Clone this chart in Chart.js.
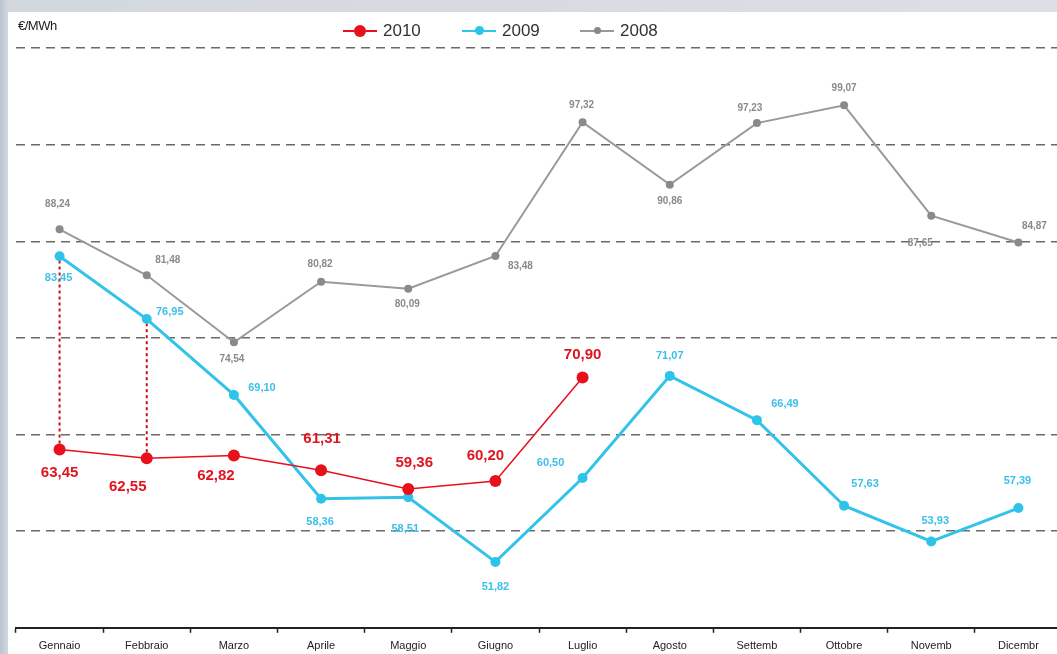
<!DOCTYPE html>
<html>
<head>
<meta charset="utf-8">
<script src="https://cdn.jsdelivr.net/npm/chart.js@4/dist/chart.umd.min.js"></script>
<style>
  html, body { margin:0; padding:0; width:1057px; height:654px; overflow:hidden; }
  body { background: linear-gradient(90deg, #b9c4d2 0px, #d3d8de 8px, #dcdfe3 100%); font-family: "Liberation Sans", Arial, sans-serif; }
  #panel { position:absolute; left:8px; top:12px; width:1060px; height:660px; background:#fff; }
  #wrap { position:absolute; left:0; top:0; width:1068px; height:664px; }
  #unit { position:absolute; left:18px; top:18px; font-size:13px; color:#222; letter-spacing:-0.5px; }
  .leg { position:absolute; top:20px; font-size:17px; color:#333; height:22px; line-height:22px; }
  .leg .ln { position:absolute; top:10px; height:2px; width:34px; left:0; }
  .leg .dt { position:absolute; border-radius:50%; }
  .leg span { position:absolute; left:40px; top:0; }
</style>
</head>
<body>
<div id="panel"></div>
<div id="wrap"><canvas id="chart" width="1068" height="664"></canvas></div>
<div id="unit">€/MWh</div>
<div class="leg" style="left:343px"><div class="ln" style="background:#e8101a"></div><div class="dt" style="background:#e8101a;width:12px;height:12px;left:11px;top:5px"></div><span>2010</span></div>
<div class="leg" style="left:462px"><div class="ln" style="background:#2ec4ea"></div><div class="dt" style="background:#2ec4ea;width:9px;height:9px;left:13px;top:6px"></div><span>2009</span></div>
<div class="leg" style="left:580px"><div class="ln" style="background:#999;height:1.5px"></div><div class="dt" style="background:#888;width:7px;height:7px;left:14px;top:7px"></div><span>2008</span></div>
<script>
const months = ['Gennaio','Febbraio','Marzo','Aprile','Maggio','Giugno','Luglio','Agosto','Settemb','Ottobre','Novemb','Dicembr'];
const y2010 = [63.45, 62.55, 62.82, 61.31, 59.36, 60.20, 70.90, null, null, null, null, null];
const y2009 = [83.45, 76.95, 69.10, 58.36, 58.51, 51.82, 60.50, 71.07, 66.49, 57.63, 53.93, 57.39];
const y2008 = [86.24, 81.48, 74.54, 80.82, 80.09, 83.48, 97.32, 90.86, 97.23, 99.07, 87.65, 84.87];
// label text as printed on the original chart
const lbl2008 = ['88,24','81,48','74,54','80,82','80,09','83,48','97,32','90,86','97,23','99,07','87,65','84,87'];

// label offsets from the point (px)
const off2010 = [[0,23],[-19,29],[-18,20],[1,-31],[6,-26],[-10,-25],[0,-23]];
const off2009 = [[-1,22],[23,-7],[28,-7],[-1,23],[-3,32],[0,25],[-32,-15],[0,-20],[28,-16],[21,-22],[4,-21],[-1,-27]];
const off2008 = [[-2,-25],[21,-15],[-2,17],[-1,-17],[-1,16],[25,10],[-1,-17],[0,17],[-7,-15],[0,-17],[-11,28],[16,-16]];

const labelPlugin = {
  id: 'labels',
  beforeDatasetsDraw(chart) {
    // red dotted connectors 2010 -> 2009 for first two months
    const ctx = chart.ctx;
    const m10 = chart.getDatasetMeta(0), m09 = chart.getDatasetMeta(1);
    ctx.save();
    ctx.strokeStyle = '#c8101a';
    ctx.lineWidth = 2;
    ctx.setLineDash([3, 3]);
    [0, 1].forEach(i => {
      ctx.beginPath();
      ctx.moveTo(m10.data[i].x, m10.data[i].y);
      ctx.lineTo(m09.data[i].x, m09.data[i].y);
      ctx.stroke();
    });
    ctx.restore();
  },
  afterDatasetsDraw(chart) {
    const ctx = chart.ctx;
    ctx.save();
    ctx.textAlign = 'center';
    ctx.textBaseline = 'middle';
    const draw = (di, offs, font, color, txt) => {
      const meta = chart.getDatasetMeta(di);
      ctx.font = font;
      ctx.fillStyle = color;
      meta.data.forEach((p, i) => {
        const v = chart.data.datasets[di].data[i];
        if (v == null) return;
        const t = txt ? txt[i] : v.toFixed(2).replace('.', ',');
        ctx.fillText(t, p.x + offs[i][0], p.y + offs[i][1]);
      });
    };
    draw(2, off2008, 'bold 10px "Liberation Sans"', '#8a8a8a', lbl2008);
    draw(1, off2009, 'bold 11px "Liberation Sans"', '#3cc0ea');
    draw(0, off2010, 'bold 15px "Liberation Sans"', '#e0141e');
    ctx.restore();
  }
};

new Chart(document.getElementById('chart'), {
  type: 'line',
  data: {
    labels: months,
    datasets: [
      { label: '2010', data: y2010, borderColor: '#e8101a', backgroundColor: '#e8101a', borderWidth: 1.5, pointRadius: 6, pointBorderWidth: 0, spanGaps: false },
      { label: '2009', data: y2009, borderColor: '#33c3ea', backgroundColor: '#2ec4ea', borderWidth: 3, pointRadius: 5, pointBorderWidth: 0 },
      { label: '2008', data: y2008, borderColor: '#9a9a9a', backgroundColor: '#8a8a8a', borderWidth: 2, pointRadius: 4, pointBorderWidth: 0 }
    ]
  },
  options: {
    responsive: false,
    animation: false,
    devicePixelRatio: 1,
    layout: { padding: { left: 16, top: 48, right: 4, bottom: 4 } },
    plugins: { legend: { display: false }, tooltip: { enabled: false } },
    scales: {
      x: {
        offset: true,
        grid: { offset: true, drawOnChartArea: false, drawTicks: true, tickLength: 5, tickColor: '#222', tickWidth: 1.5 },
        border: { display: true, color: '#222', width: 2 },
        ticks: { color: '#222', font: { family: 'Liberation Sans', size: 11 }, padding: 7, maxRotation: 0, autoSkip: false }
      },
      y: {
        min: 45, max: 105,
        ticks: { display: false, stepSize: 10 },
        grid: { color: '#6a6a6a', lineWidth: 1.5, drawTicks: false, borderDash: [9, 6] },
        border: { display: false, dash: [9, 6] }
      }
    }
  },
  plugins: [labelPlugin]
});
</script>
</body>
</html>
